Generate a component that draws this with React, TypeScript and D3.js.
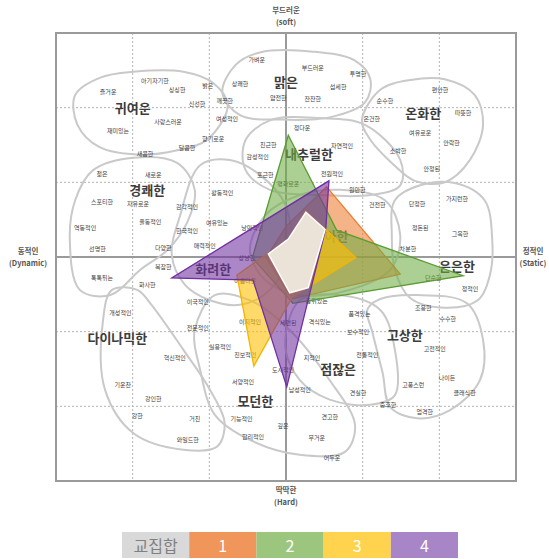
import React, { useEffect } from 'react';
import * as d3 from 'd3';

// image scale coordinates: x = dynamic(-3) .. static(+3), y = hard(-3) .. soft(+3)
const gridTicks = [-2, -1, 1, 2];

const mainWords: [string, number, number][] = [
  ['귀여운', -2.0, 2.0],
  ['맑은', 0.0, 2.35],
  ['온화한', 1.79, 1.93],
  ['내추럴한', 0.3, 1.39],
  ['경쾌한', -1.81, 0.9],
  ['우아한', 0.58, 0.29],
  ['화려한', -0.95, -0.15],
  ['은은한', 2.23, -0.11],
  ['다이나믹한', -2.2, -1.08],
  ['고상한', 1.55, -1.04],
  ['점잖은', 0.68, -1.49],
  ['모던한', -0.4, -1.92],
];

const smallWords: [string, number, number][] = [
  ['가벼운', -0.38, 2.64], ['아기자기한', -1.71, 2.37], ['즐거운', -2.32, 2.21],
  ['싱싱한', -1.42, 2.24], ['밝은', -1.02, 2.3], ['상쾌한', -0.6, 2.33],
  ['신선한', -1.16, 2.06], ['깨끗한', -0.8, 2.1], ['재미있는', -2.19, 1.7],
  ['사랑스러운', -1.54, 1.81], ['여성적인', -0.77, 1.85], ['향기로운', -0.95, 1.59],
  ['달콤한', -1.29, 1.46], ['새콤한', -1.84, 1.39], ['친근한', -0.23, 1.51],
  ['감성적인', -0.37, 1.34], ['부드러운', 0.35, 2.54], ['투명한', 0.94, 2.46],
  ['섬세한', 0.68, 2.29], ['얌전한', -0.1, 2.14], ['잔잔한', 0.35, 2.12],
  ['순수한', 1.29, 2.1], ['온건한', 1.12, 1.86], ['편안한', 2.01, 2.24],
  ['따뜻한', 2.31, 1.93], ['여유로운', 1.75, 1.67], ['안락한', 2.16, 1.53],
  ['소박한', 1.46, 1.43], ['정다운', 0.21, 1.74], ['자연적인', 0.73, 1.5],
  ['젊은', -2.4, 1.12], ['새로운', -1.73, 1.1], ['활동적인', -0.83, 0.87],
  ['스포티한', -2.4, 0.74], ['자유로운', -1.93, 0.72], ['감각적인', -1.29, 0.67],
  ['역동적인', -2.62, 0.4], ['율동적인', -1.77, 0.47], ['한국적인', -1.29, 0.36],
  ['여유있는', -0.9, 0.46], ['다양한', -1.6, 0.13], ['매력적인', -1.06, 0.16],
  ['선명한', -2.46, 0.12], ['복잡한', -1.6, -0.13], ['톡톡튀는', -2.4, -0.27],
  ['화사한', -1.81, -0.37], ['포근한', -0.27, 1.1], ['평화로운', 0.03, 0.99],
  ['전원적인', 0.6, 1.12], ['원만한', 0.93, 0.9], ['건전한', 1.19, 0.7],
  ['안정된', 1.9, 1.18], ['단정한', 1.71, 0.72], ['가지런한', 2.23, 0.79],
  ['정돈된', 1.75, 0.4], ['그윽한', 2.27, 0.32], ['차분한', 1.59, 0.12],
  ['단순한', 1.92, -0.27], ['정적인', 2.4, -0.42], ['조용한', 1.79, -0.67],
  ['수수한', 2.11, -0.82], ['낭만적인', -0.44, 0.4], ['상냥한', -0.51, 0.0],
  ['아름다운', -0.53, -0.31], ['세련된', 0.03, -0.88], ['격식있는', 0.44, -0.87],
  ['품격있는', 0.96, -0.75], ['보수적인', 0.94, -1.0], ['지적인', 0.34, -1.34],
  ['전통적인', 1.06, -1.3], ['고전적인', 1.94, -1.23], ['도시적인', -0.04, -1.51],
  ['남성적인', 0.18, -1.78], ['견실한', 0.94, -1.82], ['고풍스런', 1.66, -1.71],
  ['나이든', 2.1, -1.61], ['클래식한', 2.33, -1.81], ['중후한', 1.33, -1.98],
  ['엄격한', 1.81, -2.07], ['견고한', 0.57, -2.14], ['깊은', -0.04, -2.25],
  ['무거운', 0.4, -2.42], ['어두운', 0.6, -2.68], ['이국적인', -1.15, -0.6],
  ['개성적인', -2.16, -0.74], ['전문적인', -1.15, -0.94], ['실용적인', -0.86, -1.2],
  ['이지적인', -0.47, -0.87], ['진보적인', -0.53, -1.31], ['혁신적인', -1.45, -1.35],
  ['기운찬', -2.13, -1.71], ['강인한', -1.73, -1.89], ['강한', -1.94, -2.12],
  ['거친', -1.19, -2.16], ['와일드한', -1.28, -2.45], ['서양적인', -0.56, -1.67],
  ['기능적인', -0.58, -2.16], ['합리적인', -0.43, -2.4], ['품위있는', 0.4, -0.58],
];

// cluster outlines
const clusters: [number, number][][] = [
  [[-2.75, 2.17], [-2.43, 2.4], [-1.99, 2.48], [-1.34, 2.48], [-0.95, 2.33], [-0.76, 2.03], [-1.03, 1.57], [-1.42, 1.43], [-1.9, 1.37], [-2.43, 1.47], [-2.72, 1.77]],
  [[-0.83, 2.2], [-0.66, 2.57], [-0.34, 2.74], [0.35, 2.75], [0.9, 2.63], [1.1, 2.38], [1.03, 2.07], [0.57, 1.87], [-0.08, 1.84], [-0.6, 1.9]],
  [[0.99, 1.83], [1.23, 2.24], [1.62, 2.37], [2.07, 2.38], [2.46, 2.17], [2.57, 1.77], [2.4, 1.3], [2.07, 1.0], [1.68, 1.02], [1.38, 1.26], [1.1, 1.57]],
  [[-0.53, 1.56], [-0.21, 1.83], [0.44, 1.86], [1.03, 1.77], [1.49, 1.3], [1.49, 0.96], [1.1, 0.83], [0.44, 0.83], [-0.21, 0.9], [-0.53, 1.17]],
  [[-2.82, 0.23], [-2.75, 0.76], [-2.52, 1.16], [-1.99, 1.33], [-1.42, 1.26], [-1.19, 0.9], [-1.29, 0.46], [-1.55, 0.09], [-1.9, -0.17], [-2.29, -0.51], [-2.69, -0.44]],
  [[-1.12, 1.23], [-0.73, 1.3], [-0.34, 1.1], [-0.01, 0.7], [0.05, 0.09], [-0.21, -0.44], [-0.6, -0.64], [-0.99, -0.58], [-1.32, -0.37], [-1.49, 0.03], [-1.38, 0.56]],
  [[-0.27, 0.56], [0.18, 0.83], [0.7, 0.9], [1.29, 0.76], [1.49, 0.29], [1.36, -0.17], [0.83, -0.44], [0.18, -0.51], [-0.27, -0.31], [-0.47, 0.09]],
  [[1.42, 0.76], [1.75, 0.96], [2.2, 0.99], [2.59, 0.76], [2.69, 0.23], [2.66, -0.24], [2.5, -0.58], [2.07, -0.68], [1.62, -0.55], [1.42, -0.17], [1.38, 0.29]],
  [[1.19, -0.58], [1.71, -0.51], [2.36, -0.62], [2.57, -1.11], [2.53, -1.65], [2.14, -2.05], [1.71, -2.16], [1.36, -2.01], [1.26, -1.55], [1.13, -1.02], [1.06, -0.71]],
  [[0.18, -0.58], [0.7, -0.51], [1.23, -0.71], [1.42, -1.24], [1.42, -1.85], [1.1, -1.98], [0.57, -1.91], [0.18, -1.65], [-0.01, -1.18]],
  [[-0.93, -0.51], [-0.47, -0.58], [0.05, -0.98], [0.57, -1.65], [0.9, -2.25], [0.77, -2.61], [0.18, -2.65], [-0.47, -2.45], [-0.93, -2.11], [-1.12, -1.51], [-1.19, -0.98]],
  [[-2.27, -0.44], [-1.94, -0.44], [-1.77, -0.62], [-1.34, -1.24], [-0.99, -1.78], [-0.8, -2.22], [-0.9, -2.54], [-1.34, -2.58], [-1.99, -2.36], [-2.36, -1.78], [-2.39, -0.88]],
];

// group polygons
const group1: [number, number][] = [[0.53, 0.94], [1.49, -0.23], [0.08, -0.56], [-0.26, -0.01], [0.0, 0.41]];
const group2: [number, number][] = [[0.03, 1.63], [0.66, 0.36], [2.31, -0.25], [0.09, -0.62], [-0.44, -0.01]];
const group3: [number, number][] = [[0.26, 0.62], [0.91, -0.01], [0.08, -0.54], [-0.42, -1.46], [-0.64, -0.24], [0.03, 0.24]];
const group4: [number, number][] = [[0.56, 1.02], [0.52, 0.39], [0.01, -1.74], [-0.43, -0.31], [-1.49, -0.28]];
const intersection: [number, number][] = [[0.26, 0.6], [0.51, 0.37], [0.29, -0.41], [0.05, -0.48], [-0.23, 0.04], [0.03, 0.24]];

const legendLabels = ['교집합', '1', '2', '3', '4'];
const legendColors = ['#d9d9d9', '#f0965a', '#9cc67e', '#ffd34e', '#a885c6'];

const groups = [
  { pts: group1, fill: '#ed7d31', stroke: '#ed7d31' },
  { pts: group2, fill: '#70ad47', stroke: '#5b9c32' },
  { pts: group3, fill: '#ffc000', stroke: '#f5b400' },
  { pts: group4, fill: '#7030a0', stroke: '#7030a0' },
];

const FONT = '"Noto Sans CJK KR", "Noto Sans", sans-serif';

export default function App() {
  useEffect(() => {
    document.body.style.margin = '0';
  }, []);

  const x = d3.scaleLinear().domain([-3, 3]).range([56, 516]);
  const y = d3.scaleLinear().domain([-3, 3]).range([481, 33]);

  const blob = d3.line<[number, number]>()
    .x(d => x(d[0]))
    .y(d => y(d[1]))
    .curve(d3.curveCatmullRomClosed.alpha(0.5));

  const poly = d3.line<[number, number]>()
    .x(d => x(d[0]))
    .y(d => y(d[1]))
    .curve(d3.curveLinearClosed);

  const legendX = d3.scaleBand().domain(legendLabels).range([122, 458]);

  return (
    <svg width={549} height={559} style={{ display: 'block', background: '#fff', fontFamily: FONT }}>
      {/* grid */}
      {gridTicks.map(t => (
        <g key={'g' + t}>
          <line x1={x(t)} x2={x(t)} y1={y(3)} y2={y(-3)} stroke="#b4b4b4" strokeDasharray="2,2" />
          <line x1={x(-3)} x2={x(3)} y1={y(t)} y2={y(t)} stroke="#b4b4b4" strokeDasharray="2,2" />
        </g>
      ))}
      <line x1={x(0)} x2={x(0)} y1={y(3)} y2={y(-3)} stroke="#9a9a9a" strokeWidth={2} />
      <line x1={x(-3)} x2={x(3)} y1={y(0)} y2={y(0)} stroke="#9a9a9a" strokeWidth={2} />
      <rect x={x(-3)} y={y(3)} width={x(3) - x(-3)} height={y(-3) - y(3)} fill="none" stroke="#9a9a9a" strokeWidth={2} />

      {/* clusters */}
      {clusters.map((c, i) => (
        <path key={'c' + i} d={blob(c) || ''} fill="none" stroke="#c9c9c9" strokeWidth={2} />
      ))}

      {/* words */}
      {smallWords.map(([t, wx, wy], i) => (
        <text key={'w' + i} x={x(wx)} y={y(wy)} fontSize={6} fill="#404040" textAnchor="middle" dominantBaseline="central">{t}</text>
      ))}
      {mainWords.map(([t, wx, wy]) => (
        <text key={t} x={x(wx)} y={y(wy)} fontSize={13} fontWeight="bold" fill="#3c3c3c" textAnchor="middle" dominantBaseline="central">{t}</text>
      ))}

      {/* group polygons */}
      {groups.map((g, i) => (
        <path key={'p' + i} d={poly(g.pts) || ''} fill={g.fill} fillOpacity={0.58} stroke={g.stroke} strokeWidth={1.3} strokeLinejoin="miter" />
      ))}
      <path d={poly(intersection) || ''} fill="#ebe2d8" stroke="#ffffff" strokeWidth={1.5} />

      {/* axis titles */}
      <g fontSize={7.5} fill="#555" textAnchor="middle" fontWeight="bold">
        <text x={x(0)} y={13}>부드러운</text>
        <text x={x(0)} y={25}>(soft)</text>
        <text x={28} y={y(0) - 3}>동적인</text>
        <text x={28} y={y(0) + 9}>(Dynamic)</text>
        <text x={533} y={y(0) - 3}>정적인</text>
        <text x={533} y={y(0) + 9}>(Static)</text>
        <text x={x(0)} y={493}>딱딱한</text>
        <text x={x(0)} y={505}>(Hard)</text>
      </g>

      {/* legend */}
      {legendLabels.map((l, i) => (
        <g key={'l' + l}>
          <rect x={legendX(l)} y={532} width={legendX.bandwidth()} height={26} fill={legendColors[i]} />
          <text x={(legendX(l) || 0) + legendX.bandwidth() / 2} y={545} fontSize={16} fill={i === 0 ? '#808080' : '#ffffff'} textAnchor="middle" dominantBaseline="central">{l}</text>
        </g>
      ))}
    </svg>
  );
}
